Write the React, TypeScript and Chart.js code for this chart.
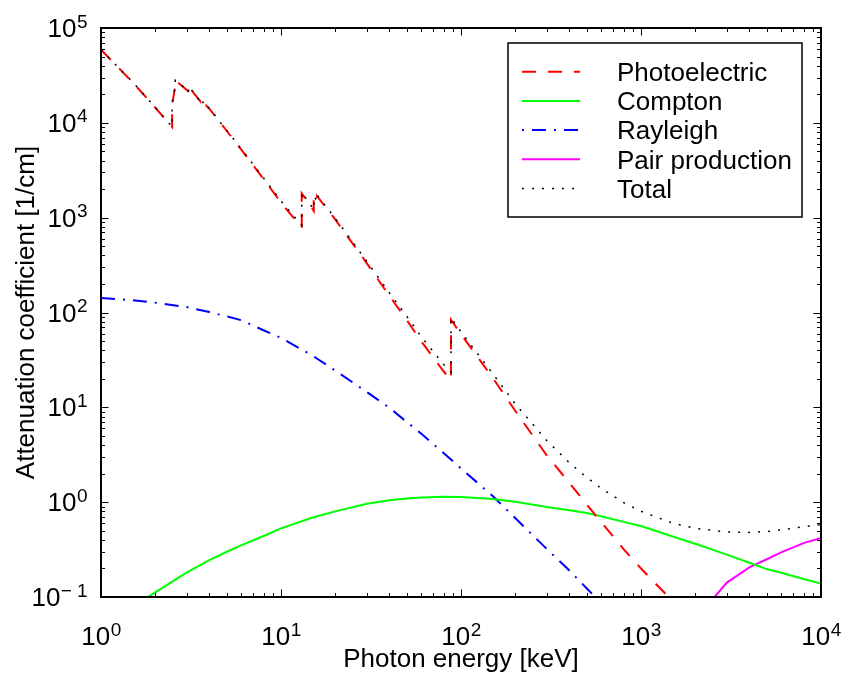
import React, { useEffect, useRef } from 'react';
import { Chart, registerables } from 'chart.js';

Chart.register(...registerables);

// ---------- data (photon energy in keV, attenuation coefficient in 1/cm) ----------
const PHOTO_E = [1, 1.5, 2, 2.484, 2.484, 2.534, 2.586, 2.586, 3, 3.066, 3.066, 3.301, 3.554, 3.554, 3.699, 3.851, 3.851, 4, 5, 6, 8, 10, 13.04, 13.04, 15, 15.2, 15.2, 15.53, 15.86, 15.86, 20, 30, 40, 50, 60, 80, 88, 88, 100, 150, 200, 300, 400, 500, 600, 800, 1000, 1500, 2000];
const PHOTO_MU = [59000, 26700, 14500, 9000, 15800, 19500, 24500, 28000, 22200, 21000, 24200, 20200, 16900, 17900, 16200, 14600, 15100, 14100, 8200, 5250, 2560, 1440, 780, 1800, 1230, 1180, 1630, 1550, 1470, 1690, 960, 330, 150, 83, 50, 24, 19.5, 84, 59, 20.5, 9.2, 3.1, 1.6, 0.94, 0.62, 0.32, 0.2, 0.09, 0.055];

const COMPTON_E = [1, 1.5, 2, 3, 4, 5, 6, 8, 10, 15, 20, 30, 40, 50, 60, 80, 100, 150, 200, 300, 400, 500, 600, 800, 1000, 1500, 2000, 3000, 4000, 5000, 6000, 8000, 10000];
const COMPTON_MU = [0.05, 0.079, 0.112, 0.182, 0.245, 0.3, 0.35, 0.44, 0.53, 0.69, 0.8, 0.96, 1.05, 1.09, 1.12, 1.14, 1.135, 1.08, 1.01, 0.89, 0.82, 0.77, 0.71, 0.62, 0.56, 0.435, 0.365, 0.28, 0.23, 0.197, 0.18, 0.155, 0.139];

const RAYLEIGH_E = [1, 1.5, 2, 3, 4, 5, 6, 8, 10, 15, 20, 30, 40, 50, 60, 80, 100, 150, 200, 300, 400, 500, 600, 800, 1000];
const RAYLEIGH_MU = [142, 135, 127, 114, 101, 91, 83, 65, 54, 35, 24.4, 14.5, 9.9, 7.0, 5.3, 3.3, 2.27, 1.16, 0.68, 0.32, 0.19, 0.123, 0.087, 0.05, 0.032];

const PAIR_E = [2000, 3000, 4000, 5000, 6000, 8000, 10000];
const PAIR_MU = [0.058, 0.142, 0.205, 0.25, 0.295, 0.37, 0.42];

const TOTAL_E = [1, 1.5, 2, 2.484, 2.484, 2.534, 2.586, 2.586, 3, 3.066, 3.066, 3.301, 3.554, 3.554, 3.699, 3.851, 3.851, 4, 5, 6, 8, 10, 13.04, 13.04, 15, 15.2, 15.2, 15.53, 15.86, 15.86, 20, 30, 40, 50, 60, 80, 88, 88, 100, 150, 200, 300, 400, 500, 600, 800, 1000, 1500, 2000, 3000, 4000, 5000, 6000, 8000, 10000];
const TOTAL_MU = [59100, 26800, 14600, 9100, 15900, 19600, 24700, 28100, 22300, 21100, 24300, 20300, 17000, 18000, 16300, 14700, 15200, 14200, 8290, 5330, 2620, 1500, 830, 1850, 1270, 1220, 1670, 1590, 1510, 1730, 985, 345, 161, 91, 56, 28.4, 23.5, 88, 62.5, 22.7, 10.9, 4.45, 2.6, 1.82, 1.4, 0.99, 0.8, 0.6, 0.53, 0.485, 0.48, 0.49, 0.51, 0.55, 0.58];

const SERIES_NAMES = ['Photoelectric', 'Compton', 'Rayleigh', 'Pair production', 'Total'];

const X_TICK_VALUES = [1, 10, 100, 1000, 10000];
const X_TICK_EXP = ['0', '1', '2', '3', '4'];
const Y_TICK_VALUES = [0.1, 1, 10, 100, 1000, 10000, 100000];
const Y_TICK_EXP = ['\u22121', '0', '1', '2', '3', '4', '5'];

const X_TITLE = 'Photon energy [keV]';
const Y_TITLE = 'Attenuation coefficient [1/cm]';

const FONT = '"Liberation Sans", Arial, Helvetica, sans-serif';

const toPoints = (xs: number[], ys: number[]) => xs.map((x, i) => ({ x, y: ys[i] }));

const decorPlugin = {
  id: 'matlabDecor',
  afterDraw(chart: any) {
    const ctx: any = chart.ctx;
    const { left, right, top, bottom } = chart.chartArea;
    const xs = chart.scales.x;
    const ys = chart.scales.y;
    ctx.save();

    // minor / major ticks, inward, on all four sides
    ctx.strokeStyle = '#000';
    ctx.lineWidth = 1;
    ctx.beginPath();
    const xmin = xs.min, xmax = xs.max, ymin = ys.min, ymax = ys.max;
    for (let d = Math.floor(Math.log10(xmin)); d <= Math.ceil(Math.log10(xmax)); d++) {
      for (let m = 1; m <= 9; m++) {
        const v = m * Math.pow(10, d);
        if (v < xmin * 0.999 || v > xmax * 1.001) continue;
        const p = Math.round(xs.getPixelForValue(v)) + 0.5;
        const len = m === 1 ? 7.5 : 4;
        ctx.moveTo(p, bottom); ctx.lineTo(p, bottom - len);
        ctx.moveTo(p, top); ctx.lineTo(p, top + len);
      }
    }
    for (let d = Math.floor(Math.log10(ymin)); d <= Math.ceil(Math.log10(ymax)); d++) {
      for (let m = 1; m <= 9; m++) {
        const v = m * Math.pow(10, d);
        if (v < ymin * 0.999 || v > ymax * 1.001) continue;
        const p = Math.round(ys.getPixelForValue(v)) + 0.5;
        const len = m === 1 ? 7.5 : 4;
        ctx.moveTo(left, p); ctx.lineTo(left + len, p);
        ctx.moveTo(right, p); ctx.lineTo(right - len, p);
      }
    }
    ctx.stroke();

    // box
    ctx.lineWidth = 2;
    ctx.strokeRect(left, top, right - left, bottom - top);

    // tick labels
    ctx.fillStyle = '#000';
    ctx.textBaseline = 'alphabetic';
    ctx.textAlign = 'left';
    const baseFont = '26px ' + FONT;
    const expFont = '19px ' + FONT;
    const expSpacing = (exp: string) => (exp.length > 1 ? '5px' : '0px');
    const measure = (exp: string) => {
      ctx.font = baseFont;
      ctx.letterSpacing = '0px';
      const wb = ctx.measureText('10').width;
      ctx.font = expFont;
      ctx.letterSpacing = expSpacing(exp);
      const we = ctx.measureText(exp).width;
      ctx.letterSpacing = '0px';
      return { wb, we };
    };
    const drawLabel = (x0: number, base: number, exp: string, wb: number) => {
      ctx.font = baseFont;
      ctx.letterSpacing = '0px';
      ctx.fillText('10', x0, base);
      ctx.font = expFont;
      ctx.letterSpacing = expSpacing(exp);
      ctx.fillText(exp, x0 + wb + 0.5, base - 9.5);
      ctx.letterSpacing = '0px';
    };
    X_TICK_VALUES.forEach((v, i) => {
      const px = xs.getPixelForValue(v);
      const { wb, we } = measure(X_TICK_EXP[i]);
      drawLabel(px - (wb + we) / 2, bottom + 48, X_TICK_EXP[i], wb);
    });
    Y_TICK_VALUES.forEach((v, i) => {
      const py = ys.getPixelForValue(v);
      const { wb, we } = measure(Y_TICK_EXP[i]);
      const extra = Y_TICK_EXP[i].length > 1 ? -5 : 0;
      drawLabel(left - 14 - (wb + we + extra), py + 9, Y_TICK_EXP[i], wb);
    });

    // axis titles
    ctx.font = '26px ' + FONT;
    ctx.textAlign = 'center';
    ctx.fillText(X_TITLE, (left + right) / 2, bottom + 70);
    ctx.save();
    ctx.translate(34, (top + bottom) / 2);
    ctx.rotate(-Math.PI / 2);
    ctx.fillText(Y_TITLE, 0, 0);
    ctx.restore();

    // legend box
    const lx = 508, ly = 43, lw = 294, lh = 174;
    ctx.fillStyle = '#fff';
    ctx.fillRect(lx, ly, lw, lh);
    ctx.strokeStyle = '#000';
    ctx.lineWidth = 1.5;
    ctx.strokeRect(lx, ly, lw, lh);
    chart.data.datasets.forEach((ds: any, i: number) => {
      const ry = 71.7 + i * 29.2;
      ctx.save();
      ctx.strokeStyle = ds.borderColor;
      ctx.lineWidth = ds.borderWidth;
      ctx.lineCap = 'butt';
      ctx.setLineDash(ds.borderDash || []);
      ctx.lineDashOffset = ds.legendDashOffset || 0;
      ctx.beginPath();
      ctx.moveTo(522, ry);
      ctx.lineTo(580, ry);
      ctx.stroke();
      ctx.restore();
      ctx.fillStyle = '#000';
      ctx.font = '26px ' + FONT;
      ctx.textAlign = 'left';
      ctx.fillText(ds.label, 617, ry + 9.3);
    });
    ctx.restore();
  },
};

export default function App() {
  const canvasRef = useRef<HTMLCanvasElement | null>(null);

  useEffect(() => {
    if (!canvasRef.current) return;
    const common = { pointRadius: 0, fill: false, tension: 0, borderCapStyle: 'butt' };
    const chart = new Chart(canvasRef.current, {
      type: 'line',
      data: {
        datasets: [
          { ...common, label: SERIES_NAMES[0], data: toPoints(PHOTO_E, PHOTO_MU), borderColor: '#ff0000', borderWidth: 2, borderDash: [14, 12] },
          { ...common, label: SERIES_NAMES[1], data: toPoints(COMPTON_E, COMPTON_MU), borderColor: '#00ff00', borderWidth: 2 },
          { ...common, label: SERIES_NAMES[2], data: toPoints(RAYLEIGH_E, RAYLEIGH_MU), borderColor: '#0000ff', borderWidth: 2, borderDash: [14, 8, 2, 8], legendDashOffset: 22 },
          { ...common, label: SERIES_NAMES[3], data: toPoints(PAIR_E, PAIR_MU), borderColor: '#ff00ff', borderWidth: 2 },
          { ...common, label: SERIES_NAMES[4], data: toPoints(TOTAL_E, TOTAL_MU), borderColor: '#000000', borderWidth: 1.5, borderDash: [2, 8], order: -1 },
        ] as any,
      },
      options: {
        animation: false,
        responsive: false,
        maintainAspectRatio: false,
        layout: { padding: { left: 101, right: 21, top: 28, bottom: 76 } },
        scales: {
          x: { type: 'logarithmic', min: 1, max: 10000, display: false },
          y: { type: 'logarithmic', min: 0.1, max: 100000, display: false },
        },
        plugins: { legend: { display: false }, tooltip: { enabled: false } },
      } as any,
      plugins: [decorPlugin],
    });
    return () => chart.destroy();
  }, []);

  return (
    <div style={{ position: 'fixed', left: 0, top: 0, width: 842, height: 673, background: '#fff' }}>
      <canvas ref={canvasRef} width={842} height={673} style={{ display: 'block' }} />
    </div>
  );
}
